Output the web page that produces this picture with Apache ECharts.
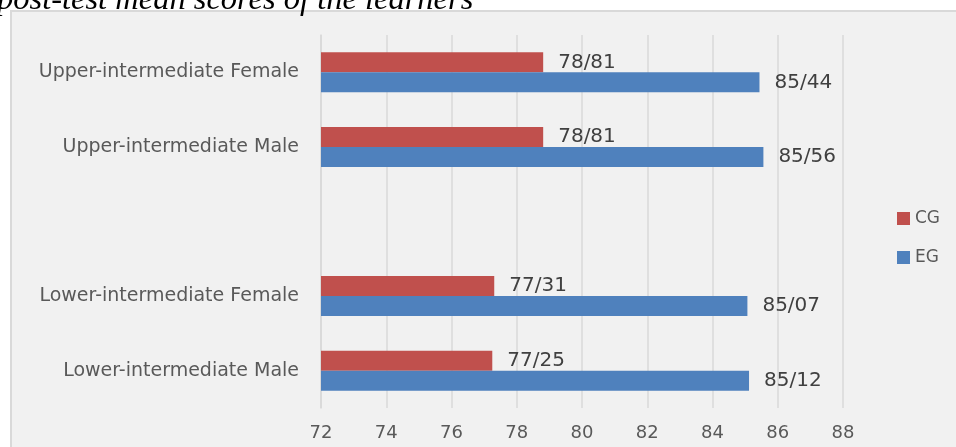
<!DOCTYPE html>
<html>
<head>
<meta charset="utf-8">
<script src="https://cdn.jsdelivr.net/npm/echarts@6/dist/echarts.min.js"></script>
<style>html,body{margin:0;padding:0;background:#fff;}#c{width:956px;height:447px;}</style>
</head>
<body>
<div id="c"></div>
<script>
const categories = ['Lower-intermediate Male', 'Lower-intermediate Female', '', 'Upper-intermediate Male', 'Upper-intermediate Female'];
const cgValues = [77.25, 77.31, null, 78.81, 78.81];
const egValues = [85.12, 85.07, null, 85.56, 85.44];
const xTicks = [72, 74, 76, 78, 80, 82, 84, 86, 88];
const titleText = 'post-test mean scores of the learners';

const chart = echarts.init(document.getElementById('c'));
const fmt = p => p.value == null ? '' : Number(p.value).toFixed(2).replace('.', '/');
const labelStyle = { show: true, position: 'right', distance: 15, color: '#404040', fontSize: 20, fontFamily: 'DejaVu Sans', formatter: fmt };
chart.setOption({
  backgroundColor: '#ffffff',
  animation: false,
  graphic: [
    { type: 'rect', z: -100, shape: { x: 11, y: 11, width: 960, height: 460 }, style: { fill: '#f1f1f1', stroke: '#d9d9d9', lineWidth: 2 } },
    { type: 'text', z: 100, x: -3, y: 0, style: { text: titleText, font: 'italic 32.5px "Liberation Serif"', fill: '#000', verticalAlign: 'middle' } }
  ],
  legend: {
    orient: 'vertical', left: 897, top: 210, padding: 0, itemWidth: 13, itemHeight: 13, itemGap: 22,
    data: ['CG', 'EG'], icon: 'rect',
    textStyle: { color: '#595959', fontSize: 17, lineHeight: 13, fontFamily: 'DejaVu Sans' }
  },
  grid: { left: 321, right: 113, top: 35, bottom: 39, containLabel: false },
  xAxis: {
    type: 'value', min: xTicks[0], max: xTicks[xTicks.length - 1], interval: 2,
    axisLine: { show: false }, axisTick: { show: false },
    axisLabel: { color: '#595959', fontSize: 18, fontFamily: 'DejaVu Sans', margin: 16 },
    splitLine: { lineStyle: { color: '#d9d9d9', width: 1.5 } }
  },
  yAxis: {
    type: 'category', data: categories,
    axisLine: { show: true, lineStyle: { color: '#d9d9d9', width: 1.5 } }, axisTick: { show: false },
    axisLabel: { color: '#595959', fontSize: 19, fontFamily: 'DejaVu Sans', margin: 22 }
  },
  series: [
    { name: 'CG', type: 'bar', data: cgValues, barWidth: 20, barGap: '0%', itemStyle: { color: '#c0504d' }, label: labelStyle },
    { name: 'EG', type: 'bar', data: egValues, barWidth: 20, barGap: '0%', itemStyle: { color: '#4f81bd' }, label: labelStyle }
  ]
});
</script>
</body>
</html>
